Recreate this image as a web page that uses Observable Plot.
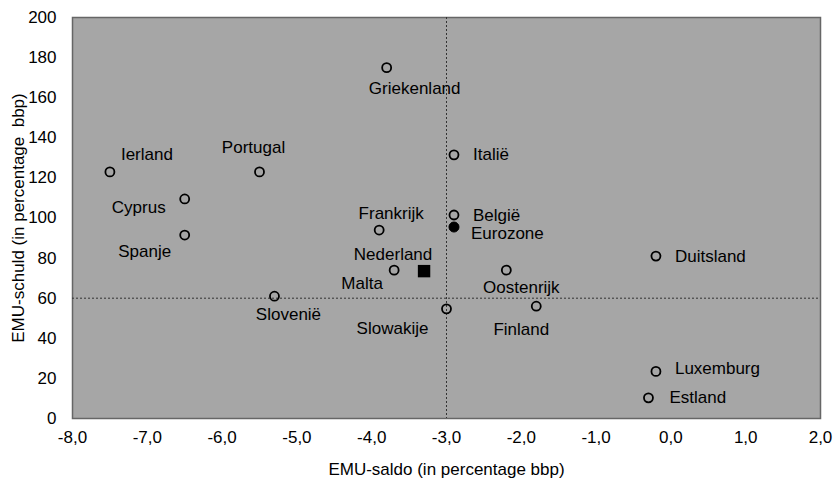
<!DOCTYPE html>
<html>
<head>
<meta charset="utf-8">
<script src="https://cdn.jsdelivr.net/npm/d3@7"></script>
<script src="https://cdn.jsdelivr.net/npm/@observablehq/plot@0.6"></script>
<style>
  html, body { margin: 0; padding: 0; background: #fff; }
  #chart svg { display: block; }
</style>
</head>
<body>
<div id="chart"></div>
<script>
const countries = ["Griekenland","Ierland","Portugal","Cyprus","Spanje","Frankrijk","Italië","België","Eurozone","Nederland","Malta","Oostenrijk","Slowakije","Finland","Slovenië","Duitsland","Luxemburg","Estland"];
const saldo  = [-3.8, -7.5, -5.5, -6.5, -6.5, -3.9, -2.9, -2.9, -2.9, -3.3, -3.7, -2.2, -3.0, -1.8, -5.3, -0.2, -0.2, -0.3];
const schuld = [175, 123, 123, 109.5, 91.5, 94, 131.5, 101.5, 95.5, 73.5, 74, 74, 54.7, 56, 61, 81, 23.5, 10.3];
const markerType = ["open","open","open","open","open","open","open","open","filled","square","open","open","open","open","open","open","open","open"];
const xTicks = [-8, -7, -6, -5, -4, -3, -2, -1, 0, 1, 2];
const yTicks = [0, 20, 40, 60, 80, 100, 120, 140, 160, 180, 200];
const refSaldo = [-3];
const refSchuld = [60];

// label layout (pixel offsets, not data)
const labelLayout = {
  "Griekenland": [28, 21, "middle"],
  "Ierland": [37, -17, "middle"],
  "Portugal": [-6, -24, "middle"],
  "Cyprus": [-46, 9, "middle"],
  "Spanje": [-40, 17, "middle"],
  "Frankrijk": [12, -16, "middle"],
  "Italië": [19, 0, "start"],
  "België": [19, 1, "start"],
  "Eurozone": [17, 7, "start"],
  "Nederland": [-31, -17, "middle"],
  "Malta": [-32, 13, "middle"],
  "Oostenrijk": [15, 17, "middle"],
  "Slowakije": [-54, 20, "middle"],
  "Finland": [-15, 23, "middle"],
  "Slovenië": [14, 18, "middle"],
  "Duitsland": [19, 0, "start"],
  "Luxemburg": [19, -3, "start"],
  "Estland": [21, 0, "start"]
};

const data = countries.map((name, i) => ({name, x: saldo[i], y: schuld[i], type: markerType[i]}));
const fmt = d => d.toFixed(1).replace(".", ",");

const labelMarks = countries.map(name => {
  const [dx, dy, anchor] = labelLayout[name];
  return Plot.text(data.filter(d => d.name === name), {
    x: "x", y: "y", text: "name", dx, dy, textAnchor: anchor,
    fill: "#000", fontSize: 17
  });
});

const chart = Plot.plot({
  width: 833,
  height: 482,
  marginLeft: 72,
  marginRight: 13,
  marginTop: 17,
  marginBottom: 64,
  style: {fontFamily: "'Liberation Sans', Arial, sans-serif", fontSize: "17px", color: "#000", background: "#fff"},
  x: {domain: [-8, 2], ticks: xTicks, tickFormat: fmt, tickSize: 0, tickPadding: 12,
      label: "EMU-saldo (in percentage bbp)", labelAnchor: "center", labelOffset: 56},
  y: {domain: [0, 200], ticks: yTicks, tickSize: 0, tickPadding: 16,
      label: "EMU-schuld (in percentage  bbp)", labelAnchor: "center", labelOffset: 61},
  marks: [
    Plot.frame({fill: "#a6a6a6", stroke: "#666", strokeWidth: 1.5}),
    Plot.ruleX(refSaldo, {stroke: "#333", strokeDasharray: "2,2", strokeWidth: 1}),
    Plot.ruleY(refSchuld, {stroke: "#333", strokeDasharray: "2,2", strokeWidth: 1}),
    Plot.dot(data.filter(d => d.type === "open"), {x: "x", y: "y", r: 4.5, stroke: "#000", strokeWidth: 1.8, fill: "none"}),
    Plot.dot(data.filter(d => d.type === "filled"), {x: "x", y: "y", r: 5, stroke: "#000", strokeWidth: 1, fill: "#000"}),
    Plot.dot(data.filter(d => d.type === "square"), {x: "x", y: "y", r: 7, symbol: "square", fill: "#000", stroke: "none"}),
    ...labelMarks
  ]
});
chart.querySelectorAll("text").forEach(t => {
  if (/[→↑←↓]/.test(t.textContent)) {
    t.textContent = t.textContent.replace(/\s*[→↑←↓]\s*/g, "").trim();
  }
});
document.getElementById("chart").appendChild(chart);
</script>
</body>
</html>
